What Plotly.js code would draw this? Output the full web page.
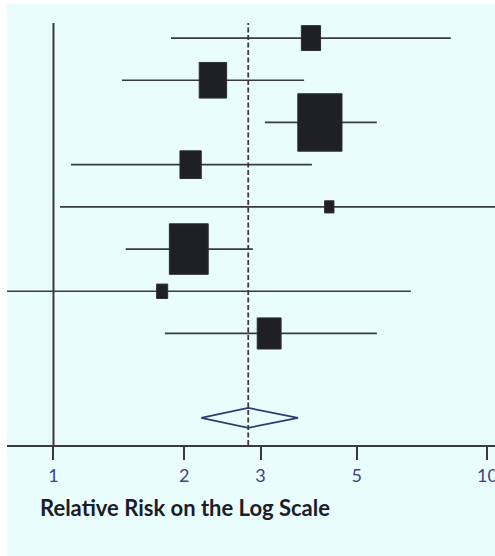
<!DOCTYPE html>
<html><head><meta charset="utf-8">
<script src="https://cdn.plot.ly/plotly-3.0.1.min.js"></script>
<style>
html,body{margin:0;padding:0;background:#ffffff;width:495px;height:556px;overflow:hidden}
#chart{position:absolute;left:7px;top:4px;width:488px;height:552px}
</style></head><body><div id="chart"></div>
<script>
// ---- data ----
const rowIndex = [1, 2, 3, 4, 5, 6, 7, 8];
const relRisk  = [3.92, 2.33, 4.11, 2.07, 4.32, 2.05, 1.78, 3.14];
const ciLower  = [1.865, 1.438, 3.07, 1.097, 1.035, 1.467, 0.70, 1.806];
const ciUpper  = [8.23, 3.78, 5.56, 3.94, 12.0, 2.88, 6.66, 5.56];
const weights  = [6.3, 12.9, 33.5, 7.8, 1.5, 25.9, 2.1, 9.8];   // % weight (box area)
const pooledRow = 10;
const pooledRR = 2.81, pooledLower = 2.19, pooledUpper = 3.66;
const tickValues = [1, 2, 3, 5, 10];
const tickLabels = ['1', '2', '3', '5', '10'];
const axisTitle = 'Relative Risk on the Log Scale';

// ---- layout geometry ----
const W = 488, H = 552, M = {l: 0, r: 0, t: 19, b: 111};
const xRange = [-0.1071, 1.0173];
const yRange = [10.643, 0.643];
const plotW = W - M.l - M.r, plotH = H - M.t - M.b;
const pxPerDec = plotW / (xRange[1] - xRange[0]);
const pxPerRow = plotH / (yRange[0] - yRange[1]);
const areaPerPct = 75.75, aspect = 1.3;

const BG = '#e9fdfd', INK = '#3a3a3a';

// CI lines
const lx = [], ly = [];
rowIndex.forEach((r, i) => { lx.push(ciLower[i], ciUpper[i], null); ly.push(r, r, null); });
const ciTrace = {type: 'scatter', mode: 'lines', x: lx, y: ly,
  line: {color: INK, width: 1.7}, hoverinfo: 'skip', showlegend: false};

// pooled diamond
const dh = 10 / pxPerRow;
const diamond = {type: 'scatter', mode: 'lines',
  x: [pooledLower, pooledRR, pooledUpper, pooledRR, pooledLower],
  y: [pooledRow, pooledRow - dh, pooledRow, pooledRow + dh, pooledRow],
  line: {color: '#2d3b72', width: 1.7}, hoverinfo: 'skip', showlegend: false};

// boxes sized by weight
const boxes = relRisk.map((rr, i) => {
  const area = weights[i] * areaPerPct;
  const w = Math.sqrt(area / aspect), h = w * aspect;
  const hw = w / 2 / pxPerDec;
  return {type: 'rect', xref: 'x', yref: 'y',
    x0: rr * Math.pow(10, -hw), x1: rr * Math.pow(10, hw),
    y0: rowIndex[i] - h / 2 / pxPerRow, y1: rowIndex[i] + h / 2 / pxPerRow,
    fillcolor: '#1f2027', line: {color: '#2c2d35', width: 1}};
});

const shapes = [
  {type: 'line', xref: 'x', yref: 'paper', x0: 1, x1: 1, y0: 0, y1: 1,
   line: {color: INK, width: 2}},
  {type: 'line', xref: 'x', yref: 'paper', x0: pooledRR, x1: pooledRR, y0: 0, y1: 1,
   line: {color: INK, width: 1.8, dash: '5px,2.5px'}},
  ...boxes
];

const layout = {
  width: W, height: H, margin: M,
  paper_bgcolor: BG, plot_bgcolor: BG,
  showlegend: false,
  xaxis: {type: 'log', range: xRange, showgrid: false, zeroline: false,
    showline: true, linecolor: INK, linewidth: 2,
    ticks: 'outside', ticklen: 13, tickwidth: 2, tickcolor: INK,
    tickvals: tickValues, ticktext: tickLabels, ticklabeloverflow: 'allow',
    tickfont: {family: 'Lato, sans-serif', size: 18, color: '#463f86'},
    fixedrange: true},
  yaxis: {range: yRange, visible: false, showgrid: false, zeroline: false, fixedrange: true},
  shapes: shapes,
  annotations: [{text: axisTitle, xref: 'paper', yref: 'paper',
    x: (39 - 7) / W, y: (plotH - (508 - 4 - M.t)) / plotH,
    xanchor: 'left', yanchor: 'middle', showarrow: false, borderpad: 0,
    font: {family: 'Lato, sans-serif', size: 22, weight: 700, color: '#1c1c2a'}}]
};

Plotly.newPlot('chart', [ciTrace, diamond], layout, {displayModeBar: false, staticPlot: true});
</script></body></html>
